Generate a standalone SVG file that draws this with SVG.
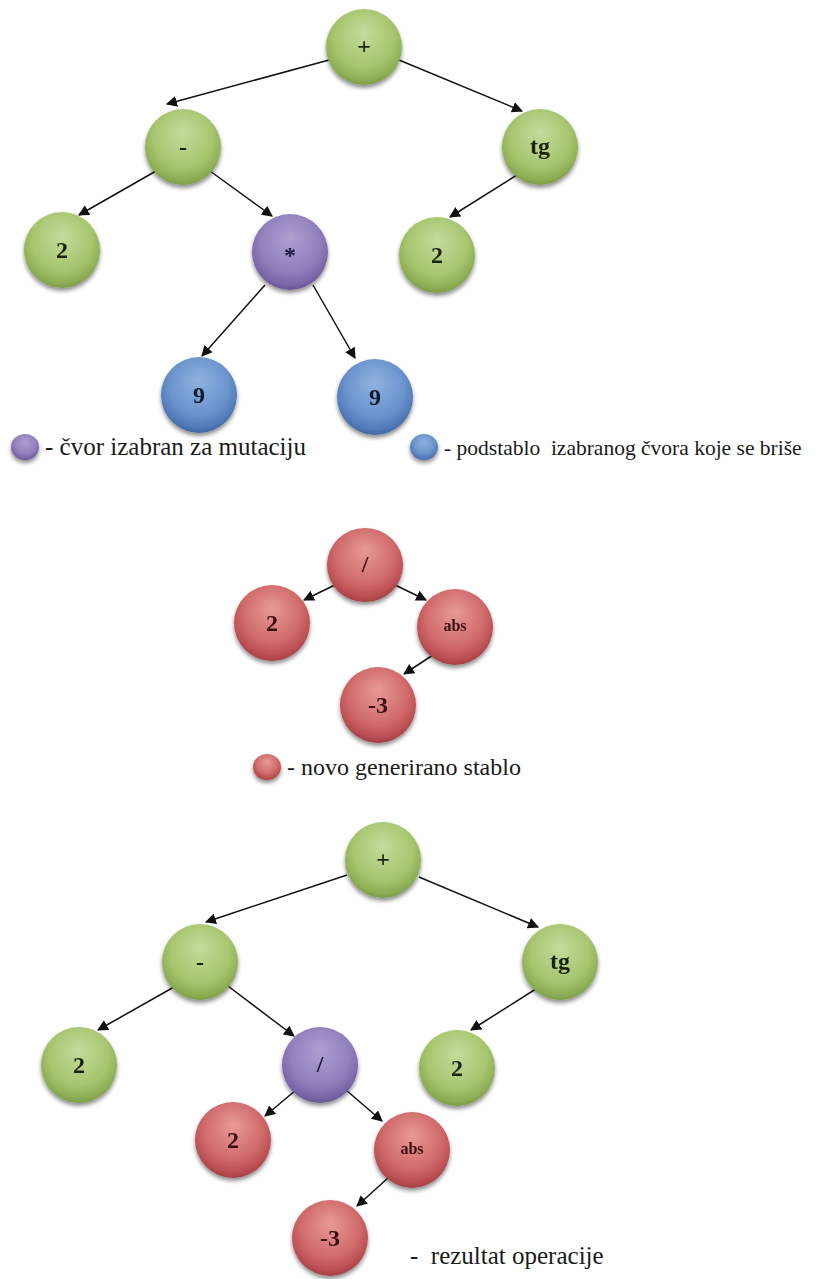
<svg xmlns="http://www.w3.org/2000/svg" width="817" height="1279" viewBox="0 0 817 1279">
  <defs>
    <style>
      .lbl { font-family: "Liberation Serif", "Times New Roman", serif; font-weight: bold; font-size: 24px; text-anchor: middle; dominant-baseline: central; }
      .small { font-size: 16px; }
      .g-txt { fill: #1c2410; }
      .p-txt { fill: #1e1640; }
      .b-txt { fill: #111c33; }
      .r-txt { fill: #3a0c0e; }
      .legend { font-family: "Liberation Serif", "Times New Roman", serif; font-size: 25px; fill: #1a1a1a; }
      .legend-narrow { font-size: 21.5px; }
      .legend-mid { font-size: 24px; }
      .edge { stroke: #111; stroke-width: 1.5; fill: none; marker-end: url(#arrow); }
      .green { fill: url(#gGreen); }
      .purple { fill: url(#gPurple); }
      .blue { fill: url(#gBlue); }
      .red { fill: url(#gRed); }
      .node { filter: url(#shadow); }
    </style>
    <marker id="arrow" viewBox="0 0 10 10" refX="9" refY="5" markerWidth="11" markerHeight="11" markerUnits="userSpaceOnUse" orient="auto">
      <path d="M0,0 L10,5 L0,10 Z" fill="#111"/>
    </marker>
    <filter id="shadow" x="-30%" y="-30%" width="160%" height="170%">
      <feGaussianBlur in="SourceAlpha" stdDeviation="2"/>
      <feOffset dx="0" dy="2.5" result="b"/>
      <feComponentTransfer><feFuncA type="linear" slope="0.45"/></feComponentTransfer>
      <feMerge><feMergeNode/><feMergeNode in="SourceGraphic"/></feMerge>
    </filter>
    <radialGradient id="gGreen" cx="50%" cy="40%" r="60%" fx="50%" fy="30%">
      <stop offset="0" stop-color="#c4dc9c"/>
      <stop offset="0.65" stop-color="#a7c66f"/>
      <stop offset="0.9" stop-color="#8eae55"/>
      <stop offset="1" stop-color="#7d9c46"/>
    </radialGradient>
    <radialGradient id="gPurple" cx="50%" cy="40%" r="60%" fx="50%" fy="30%">
      <stop offset="0" stop-color="#ae9fd0"/>
      <stop offset="0.65" stop-color="#9280bd"/>
      <stop offset="0.9" stop-color="#7a66a8"/>
      <stop offset="1" stop-color="#6a5597"/>
    </radialGradient>
    <radialGradient id="gBlue" cx="50%" cy="40%" r="60%" fx="50%" fy="30%">
      <stop offset="0" stop-color="#8fb2e0"/>
      <stop offset="0.65" stop-color="#6b93cc"/>
      <stop offset="0.9" stop-color="#5079b8"/>
      <stop offset="1" stop-color="#3f67a4"/>
    </radialGradient>
    <radialGradient id="gRed" cx="50%" cy="40%" r="60%" fx="50%" fy="30%">
      <stop offset="0" stop-color="#e89a98"/>
      <stop offset="0.65" stop-color="#d06a6b"/>
      <stop offset="0.9" stop-color="#b94e52"/>
      <stop offset="1" stop-color="#a23e43"/>
    </radialGradient>
  </defs>

  <rect width="817" height="1279" fill="#ffffff"/>

  <!-- connectors -->
  <g id="connectors">
    <!-- first tree -->
    <line class="edge" x1="329" y1="60" x2="167" y2="104"/>
    <line class="edge" x1="399" y1="60" x2="522" y2="111"/>
    <line class="edge" x1="156" y1="171" x2="79" y2="215"/>
    <line class="edge" x1="210" y1="171" x2="272" y2="216"/>
    <line class="edge" x1="520" y1="173" x2="450" y2="217"/>
    <line class="edge" x1="265" y1="285" x2="202" y2="356"/>
    <line class="edge" x1="313" y1="285" x2="355" y2="358"/>
    <!-- generated tree -->
    <line class="edge" x1="341" y1="582" x2="304" y2="600"/>
    <line class="edge" x1="389" y1="582" x2="426" y2="600"/>
    <line class="edge" x1="433" y1="655" x2="404" y2="674"/>
    <!-- result tree -->
    <line class="edge" x1="347" y1="875" x2="206" y2="922"/>
    <line class="edge" x1="419" y1="877" x2="538" y2="927"/>
    <line class="edge" x1="174" y1="987" x2="98" y2="1030"/>
    <line class="edge" x1="228" y1="986" x2="294" y2="1036"/>
    <line class="edge" x1="539" y1="987" x2="471" y2="1030"/>
    <line class="edge" x1="296" y1="1090" x2="265" y2="1116"/>
    <line class="edge" x1="346" y1="1090" x2="382" y2="1121"/>
    <line class="edge" x1="388" y1="1178" x2="357" y2="1206"/>
  </g>

  <!-- first tree -->
  <g id="t1-plus" class="node"><ellipse class="green" cx="364" cy="47" rx="38" ry="38"/><text class="lbl g-txt" x="364" y="46" font-weight="normal">+</text></g>
  <g id="t1-minus" class="node"><ellipse class="green" cx="183" cy="147" rx="38" ry="38"/><text class="lbl g-txt" x="183" y="147">-</text></g>
  <g id="t1-tg" class="node"><ellipse class="green" cx="540" cy="147" rx="38" ry="38"/><text class="lbl g-txt" x="540" y="146">tg</text></g>
  <g id="t1-two-a" class="node"><ellipse class="green" cx="62" cy="250" rx="38" ry="38"/><text class="lbl g-txt" x="62" y="250">2</text></g>
  <g id="t1-mul" class="node"><ellipse class="purple" cx="290" cy="252" rx="38" ry="38"/><text class="lbl p-txt" x="290" y="255">*</text></g>
  <g id="t1-two-b" class="node"><ellipse class="green" cx="437" cy="255" rx="38" ry="38"/><text class="lbl g-txt" x="437" y="255">2</text></g>
  <g id="t1-nine-a" class="node"><ellipse class="blue" cx="199" cy="395" rx="38" ry="38"/><text class="lbl b-txt" x="199" y="395">9</text></g>
  <g id="t1-nine-b" class="node"><ellipse class="blue" cx="375" cy="397" rx="38" ry="38"/><text class="lbl b-txt" x="375" y="397">9</text></g>

  <!-- legend of first tree -->
  <g id="legend-selected">
    <ellipse class="purple node" cx="25" cy="447" rx="14" ry="13"/>
    <text class="legend" x="45" y="455">- čvor izabran za mutaciju</text>
  </g>
  <g id="legend-deleted">
    <ellipse class="blue node" cx="424" cy="447" rx="14" ry="13"/>
    <text class="legend legend-narrow" x="444" y="455" xml:space="preserve">- podstablo  izabranog čvora koje se briše</text>
  </g>

  <!-- generated tree -->
  <g id="g-div" class="node"><ellipse class="red" cx="365" cy="565" rx="38" ry="37"/><text class="lbl r-txt" x="365" y="564" font-weight="normal">/</text></g>
  <g id="g-two" class="node"><ellipse class="red" cx="272" cy="623" rx="38" ry="38"/><text class="lbl r-txt" x="272" y="623">2</text></g>
  <g id="g-abs" class="node"><ellipse class="red" cx="455" cy="627" rx="38" ry="38"/><text class="lbl small r-txt" x="455" y="625">abs</text></g>
  <g id="g-neg3" class="node"><ellipse class="red" cx="378" cy="705" rx="38" ry="38"/><text class="lbl r-txt" x="378" y="705">-3</text></g>

  <g id="legend-new">
    <ellipse class="red node" cx="267" cy="767" rx="14" ry="13"/>
    <text class="legend legend-mid" x="287" y="775">- novo generirano stablo</text>
  </g>

  <!-- result tree -->
  <g id="r-plus" class="node"><ellipse class="green" cx="383" cy="860" rx="38" ry="38"/><text class="lbl g-txt" x="383" y="859" font-weight="normal">+</text></g>
  <g id="r-minus" class="node"><ellipse class="green" cx="200" cy="962" rx="38" ry="38"/><text class="lbl g-txt" x="200" y="962">-</text></g>
  <g id="r-tg" class="node"><ellipse class="green" cx="560" cy="962" rx="38" ry="38"/><text class="lbl g-txt" x="560" y="961">tg</text></g>
  <g id="r-two-a" class="node"><ellipse class="green" cx="79" cy="1065" rx="38" ry="38"/><text class="lbl g-txt" x="79" y="1065">2</text></g>
  <g id="r-div" class="node"><ellipse class="purple" cx="320" cy="1065" rx="38" ry="38"/><text class="lbl p-txt" x="320" y="1064" font-weight="normal">/</text></g>
  <g id="r-two-b" class="node"><ellipse class="green" cx="457" cy="1068" rx="38" ry="38"/><text class="lbl g-txt" x="457" y="1068">2</text></g>
  <g id="r-two-c" class="node"><ellipse class="red" cx="233" cy="1140" rx="38" ry="38"/><text class="lbl r-txt" x="233" y="1140">2</text></g>
  <g id="r-abs" class="node"><ellipse class="red" cx="412" cy="1150" rx="38" ry="38"/><text class="lbl small r-txt" x="412" y="1148">abs</text></g>
  <g id="r-neg3" class="node"><ellipse class="red" cx="330" cy="1238" rx="38" ry="38"/><text class="lbl r-txt" x="330" y="1238">-3</text></g>

  <g id="legend-result">
    <text class="legend" x="410" y="1264" xml:space="preserve">-  rezultat operacije</text>
  </g>
</svg>
